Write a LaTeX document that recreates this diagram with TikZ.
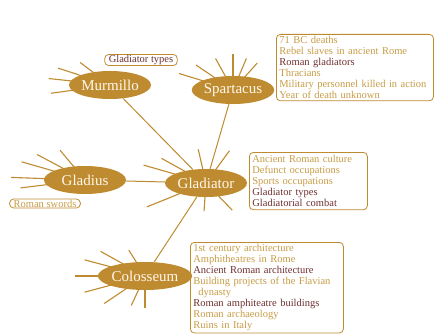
\documentclass[tikz,border=0pt]{standalone}
\usepackage{fontspec}
\setmainfont{Liberation Serif}
\usetikzlibrary{calc,shapes.geometric,backgrounds}
\definecolor{gold}{HTML}{BF8B30}
\definecolor{goldtxt}{HTML}{C79B45}
\definecolor{maroon}{HTML}{6E2E2E}
\definecolor{cream}{HTML}{FFF8EC}
\newcommand\spokesfor[2]{\foreach \ang/\lng in {#2}{\draw[spoke] ($(#1.center)!0.9!(#1.\ang)$) -- ($(#1.\ang)!-\lng pt!(#1.center)$);}}
\tikzset{
  topic/.style={ellipse, fill=gold, draw=none, minimum width=82pt, minimum height=28pt, inner sep=0pt,
    text=cream, font=\fontsize{15}{17}\selectfont},
  spoke/.style={draw=gold, line width=1.1pt},
  conn/.style={draw=gold, line width=1pt},
  listbox/.style={draw=gold, line width=0.8pt, rounded corners=4pt, align=left, text=goldtxt,
    inner xsep=3pt, inner ysep=2pt, font=\fontsize{10.5}{11}\selectfont, anchor=north west},
  tagbox/.style={draw=gold, line width=0.8pt, rounded corners=4pt, inner xsep=4pt, inner ysep=0.8pt,
    font=\fontsize{10.5}{11}\selectfont}
}
\begin{document}
\begin{tikzpicture}[x=1pt,y=-1pt]
\useasboundingbox (0,0) rectangle (435,334);
\node[topic] (mu) at (110,85) {Murmillo};
\node[topic] (sp) at (233,90) {Spartacus};
\node[topic] (gs) at (85,180) {Gladius};
\node[topic] (ga) at (206,183) {Gladiator};
\node[topic] (co) at (145,276) {Colosseum};
\begin{scope}[on background layer]
\spokesfor{mu}{143/16,162/23,174/22,188/21}
\spokesfor{sp}{163/24,146/22,119/20,90/22,67/19,48/18}
\spokesfor{gs}{130/21,152/29,164/33,178/33,187/26}
\spokesfor{ga}{103/20,54/23,151/26,164/32,202/35,266/14,314/19}
\spokesfor{co}{122/14,151/25,165/26,180/23,195/26,214/26,245/17,270/18}
\draw[conn] (mu) -- (ga);
\draw[conn] (sp) -- (ga);
\draw[conn] (gs) -- (ga);
\draw[conn] (co) -- (ga);
\end{scope}
\node[tagbox, text=maroon] (gt) at (141,60) {Gladiator types};
\node[tagbox, text=goldtxt] (rs) at (45,203.5) {Roman swords};
\node[listbox, text width=151pt] (sl) at (276,34) {71 BC deaths\\
Rebel slaves in ancient Rome\\
\textcolor{maroon}{Roman gladiators}\\
Thracians\\
Military personnel killed in action\\
Year of death unknown};
\node[listbox, text width=112pt, inner ysep=3pt] (gl) at (249,152) {Ancient Roman culture\\
Defunct occupations\\
Sports occupations\\
\textcolor{maroon}{Gladiator types}\\
\textcolor{maroon}{Gladiatorial combat}};
\node[listbox, text width=147pt] (cl) at (190,242) {1st century architecture\\
Amphitheatres in Rome\\
\textcolor{maroon}{Ancient Roman architecture}\\
Building projects of the Flavian\\
\hspace*{5pt}dynasty\\
\textcolor{maroon}{Roman amphiteatre buildings}\\
Roman archaeology\\
Ruins in Italy};
\end{tikzpicture}
\end{document}
